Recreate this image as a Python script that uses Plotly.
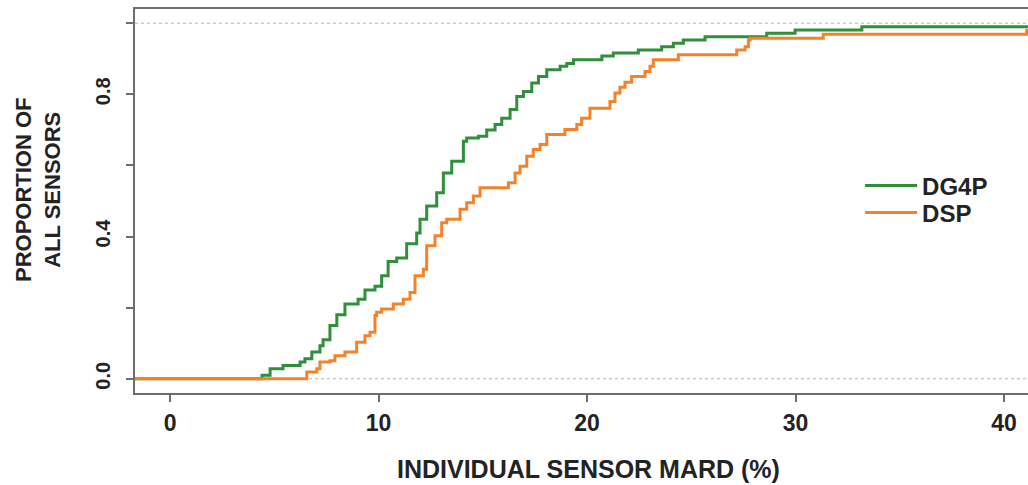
import plotly.graph_objects as go

dg4p_mard = [-2, 4.41, 4.80, 5.42, 6.24, 6.47, 6.80, 7.19, 7.34, 7.67, 8.00, 8.39, 9.02, 9.35,
             9.83, 10.15, 10.46, 10.87, 11.35, 11.83, 11.99, 12.31, 12.79, 13.11, 13.51, 14.07,
             14.23, 14.79, 15.19, 15.59, 15.91, 16.31, 16.63, 16.95, 17.35, 17.67, 18.07, 18.71,
             19.03, 19.35, 20.71, 21.26, 22.46, 23.58, 24.14, 24.62, 25.66, 28.62, 29.98, 33.18, 45]
dg4p_prop = [0.0, 0.010, 0.028, 0.037, 0.047, 0.056, 0.075, 0.093, 0.110, 0.150, 0.180, 0.210, 0.224, 0.250,
             0.260, 0.290, 0.330, 0.340, 0.380, 0.410, 0.449, 0.486, 0.523, 0.579, 0.612, 0.668,
             0.677, 0.682, 0.700, 0.715, 0.733, 0.757, 0.794, 0.808, 0.832, 0.850, 0.869, 0.879,
             0.887, 0.897, 0.908, 0.916, 0.925, 0.934, 0.944, 0.953, 0.962, 0.972, 0.981, 0.990, 0.990]

dsp_mard = [-2, 6.56, 7.04, 7.19, 7.67, 7.91, 8.39, 8.95, 9.35, 9.59, 9.83, 9.91, 10.15, 10.71,
            11.19, 11.51, 11.75, 12.15, 12.31, 12.71, 13.03, 13.27, 13.91, 14.23, 14.55, 14.87,
            16.23, 16.55, 16.79, 17.11, 17.42, 17.75, 18.07, 18.94, 19.51, 19.74, 20.14, 21.10,
            21.34, 21.58, 21.82, 22.14, 22.78, 23.02, 23.18, 24.38, 27.18, 27.58, 27.74, 27.82,
            31.33, 41.09, 45]
dsp_prop = [0.0, 0.019, 0.028, 0.047, 0.051, 0.065, 0.075, 0.103, 0.121, 0.131, 0.178, 0.187, 0.196, 0.210,
            0.224, 0.243, 0.290, 0.308, 0.374, 0.402, 0.439, 0.449, 0.477, 0.495, 0.514, 0.537,
            0.551, 0.579, 0.598, 0.626, 0.645, 0.659, 0.687, 0.701, 0.715, 0.733, 0.761, 0.780,
            0.804, 0.820, 0.834, 0.850, 0.864, 0.879, 0.897, 0.911, 0.925, 0.934, 0.953, 0.958,
            0.969, 0.980, 0.980]

x_ticks = [0, 10, 20, 30, 40]
y_ticks = [0.0, 0.2, 0.4, 0.6, 0.8, 1.0]
y_tick_text = ["0.0", "", "0.4", "", "0.8", ""]

GREEN = "#2f8f3b"
ORANGE = "#f5822a"
AXIS = "#6e6e6e"
TEXT = "#232323"
FONT = "Liberation Sans"

fig = go.Figure()
fig.add_trace(go.Scatter(x=dg4p_mard, y=dg4p_prop, mode="lines", name="DG4P", legend="legend",
                         line=dict(color=GREEN, width=3, shape="hv")))
fig.add_trace(go.Scatter(x=dsp_mard, y=dsp_prop, mode="lines", name="DSP", legend="legend2",
                         line=dict(color=ORANGE, width=3, shape="hv")))

for yv in (0, 1):
    fig.add_shape(type="line", xref="paper", x0=0, x1=1, yref="y", y0=yv, y1=yv,
                  line=dict(color="#b5b5b5", width=1, dash="3px,3px"), layer="below")

fig.add_annotation(text="INDIVIDUAL SENSOR MARD (%)", xref="paper", yref="paper",
                   x=0.508, y=-0.198, xanchor="center", yanchor="middle", showarrow=False,
                   font=dict(family=FONT, size=25, color=TEXT, weight="bold"))
fig.add_annotation(text="PROPORTION OF<br>ALL SENSORS", xref="paper", yref="paper",
                   x=-0.1086, y=0.5286, xanchor="center", yanchor="middle", showarrow=False,
                   textangle=-90, align="center",
                   font=dict(family=FONT, size=22, color=TEXT, weight="bold"))

legend_style = dict(xanchor="left", yanchor="middle", bgcolor="rgba(0,0,0,0)",
                    font=dict(family=FONT, size=24, color=TEXT, weight="bold"),
                    itemwidth=52)

fig.update_layout(
    width=1028, height=485,
    margin=dict(l=135, r=0, t=9, b=92),
    paper_bgcolor="white", plot_bgcolor="white",
    showlegend=True,
    legend=dict(x=0.812, y=0.539, **legend_style),
    legend2=dict(x=0.812, y=0.469, **legend_style),
    xaxis=dict(range=[-1.68, 41.15], tickmode="array", tickvals=x_ticks,
               showgrid=False, zeroline=False, showline=True, mirror=True,
               linecolor=AXIS, linewidth=1.5, ticks="outside", ticklen=7, tickwidth=1.5,
               tickcolor=AXIS, ticklabelstandoff=2,
               tickfont=dict(family=FONT, size=23, color=TEXT, weight="bold")),
    yaxis=dict(range=[-0.04, 1.04], tickmode="array", tickvals=y_ticks, ticktext=y_tick_text,
               showgrid=False, zeroline=False, showline=True, mirror=False,
               linecolor=AXIS, linewidth=1.5, ticks="outside", ticklen=7, tickwidth=1.5,
               tickcolor=AXIS, tickangle=-90, ticklabelstandoff=8,
               tickfont=dict(family=FONT, size=20, color=TEXT, weight="bold")),
)

fig.write_html("out.html", config={"displayModeBar": False},
               post_script="document.body.style.margin='0px';")
